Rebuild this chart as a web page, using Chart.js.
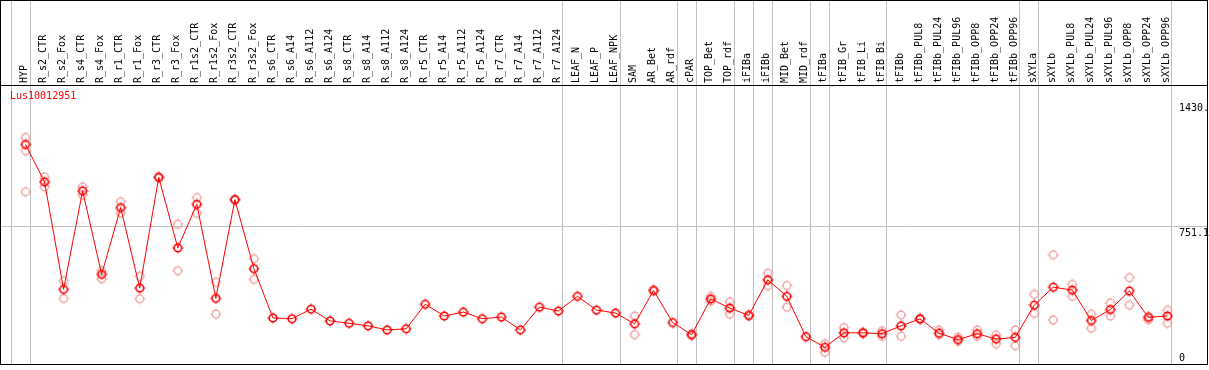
<!DOCTYPE html>
<html>
<head>
<meta charset="utf-8">
<script src="https://cdn.jsdelivr.net/npm/chart.js@4.4.1/dist/chart.umd.min.js"></script>
<style>
  html, body { margin: 0; padding: 0; background: #fff; }
  #wrap { width: 1209px; height: 370px; position: relative; }
</style>
</head>
<body>
<div id="wrap"><canvas id="chart"></canvas></div>
<script>
const chartTitle = 'Lus10012951';

const categories = [
  'HYP', 'R_s2_CTR', 'R_s2_Fox', 'R_s4_CTR', 'R_s4_Fox', 'R_r1_CTR', 'R_r1_Fox', 'R_r3_CTR', 'R_r3_Fox',
  'R_r1s2_CTR', 'R_r1s2_Fox', 'R_r3s2_CTR', 'R_r3s2_Fox', 'R_s6_CTR', 'R_s6_A14', 'R_s6_A112', 'R_s6_A124',
  'R_s8_CTR', 'R_s8_A14', 'R_s8_A112', 'R_s8_A124', 'R_r5_CTR', 'R_r5_A14', 'R_r5_A112', 'R_r5_A124',
  'R_r7_CTR', 'R_r7_A14', 'R_r7_A112', 'R_r7_A124', 'LEAF_N', 'LEAF_P', 'LEAF_NPK', 'SAM', 'AR_Bet', 'AR_rdf',
  'cPAR', 'TOP_Bet', 'TOP_rdf', 'iFIBa', 'iFIBb', 'MID_Bet', 'MID_rdf', 'tFIBa', 'tFIB_Gr', 'tFIB_Li', 'tFIB_Bi',
  'tFIBb', 'tFIBb_PUL8', 'tFIBb_PUL24', 'tFIBb_PUL96', 'tFIBb_OPP8', 'tFIBb_OPP24', 'tFIBb_OPP96',
  'sXYLa', 'sXYLb', 'sXYLb_PUL8', 'sXYLb_PUL24', 'sXYLb_PUL96', 'sXYLb_OPP8', 'sXYLb_OPP24', 'sXYLb_OPP96'
];

// mean expression (red line)
const expression = [
  1197, 993, 407, 944, 489, 853, 414, 1018, 633, 871, 358, 896, 520, 251, 247, 299, 235, 222, 208, 186,
  192, 326, 262, 283, 247, 256, 186, 310, 289, 369, 294, 278, 219, 401, 226, 160, 355, 305, 265, 459,
  369, 149, 91, 170, 170, 165, 208, 246, 168, 133, 165, 136, 145, 321, 419, 403, 237, 297, 398, 254, 262
];

// single replicates (pink circles)
const replicateA = [
  1235, 1020, 455, 966, 509, 885, 478, 1022, 762, 907, 446, 900, 574,
  null, null, null, null, null, null, null, null, null, null, null, null, null, null, null, null, null, null, null,
  262, 405, null, 165, 369, 339, 268, 495, 428, null, 111, 199, 175, 181, 267, 250, 186, 147, 186, 158, 186,
  380, 595, 434, 272, 333, 471, 258, 294
];
const replicateB = [
  1163, 966, 358, 921, 464, 822, 355, 1014, 509, 822, 272, 893, 462,
  null, null, null, null, null, null, null, null, null, null, null, null, null, null, null, null, null, null, null,
  160, 397, null, 155, 344, 272, 262, 427, 310, null, 64, 143, 165, 151, 151, 242, 160, 125, 150, 111, 100,
  276, 240, 369, 195, 262, 321, 240, 222
];
const replicateC = [
  939, null, null, null, null, null, null, null, null, null, null, null, null, null, null, null, null, null, null, null,
  null, null, null, null, null, null, null, null, null, null, null, null, null, null, null, null, null, null, null, null,
  null, null, null, null, null, null, null, null, null, null, null, null, null, null, null, null, null, null, null, null, null
];

const yTickValues = [0, 751.1, 1430];
const yTickLabels = ['0', '751.1', '1430.'];
const yGridValues = [751.1];
// separators are drawn right after these categories
const groupBreaks = [0, 28, 31, 34, 35, 37, 38, 39, 41, 42, 45, 52, 53, 60];

const FONT = '10px "DejaVu Sans Mono", monospace';

// small circle with four ticks, used as point style
function makeMarker(color, lw) {
  const c = document.createElement('canvas');
  c.width = 12; c.height = 12;
  const g = c.getContext('2d');
  g.strokeStyle = color;
  g.lineWidth = lw;
  g.beginPath();
  g.arc(6, 6, 3.8, 0, Math.PI * 2);
  g.stroke();
  g.lineWidth = 1;
  g.beginPath();
  g.moveTo(6, 0.5); g.lineTo(6, 2);
  g.moveTo(6, 10); g.lineTo(6, 11.5);
  g.moveTo(0.5, 6); g.lineTo(2, 6);
  g.moveTo(10, 6); g.lineTo(11.5, 6);
  g.stroke();
  return c;
}
const mainMarker = makeMarker('#ff0000', 1.6);
const repMarker = makeMarker('#f0a0a0', 1.3);

const framePlugin = {
  id: 'frame',
  beforeDraw(chart) {
    const ctx = chart.ctx;
    ctx.save();
    ctx.fillStyle = '#fff';
    ctx.fillRect(0, 0, chart.width, chart.height);
    ctx.restore();
  },
  beforeDatasetsDraw(chart) {
    const { ctx, chartArea, scales } = chart;
    ctx.save();
    ctx.strokeStyle = '#c0c0c0';
    ctx.lineWidth = 1;
    ctx.beginPath();
    yGridValues.forEach(v => {
      const y = Math.round(scales.y.getPixelForValue(v)) + 0.5;
      ctx.moveTo(0, y);
      ctx.lineTo(chart.width - 2, y);
    });
    const first = Math.round(scales.x.getPixelForValue(0) - 15) + 0.5;
    ctx.moveTo(first, 0);
    ctx.lineTo(first, chartArea.bottom);
    groupBreaks.forEach(i => {
      const x = Math.round(scales.x.getPixelForValue(i) + 4) + 0.5;
      ctx.moveTo(x, 0);
      ctx.lineTo(x, chartArea.bottom);
    });
    ctx.stroke();
    ctx.restore();
  },
  afterDraw(chart) {
    const { ctx, chartArea, scales } = chart;
    ctx.save();
    // outer box and header separator
    ctx.strokeStyle = '#000';
    ctx.lineWidth = 1;
    ctx.strokeRect(0.5, 0.5, chart.width - 2, chartArea.bottom);
    ctx.beginPath();
    ctx.moveTo(0, chartArea.top - 0.5);
    ctx.lineTo(chart.width - 1, chartArea.top - 0.5);
    ctx.stroke();

    // gene id
    ctx.font = FONT;
    ctx.fillStyle = '#ff0000';
    ctx.textAlign = 'left';
    ctx.textBaseline = 'top';
    ctx.fillText(chartTitle, 10, chartArea.top + 5);

    // value labels at right
    ctx.fillStyle = '#000';
    yTickValues.forEach((v, i) => {
      const y = scales.y.getPixelForValue(v);
      if (v === 0) {
        ctx.textBaseline = 'bottom';
        ctx.fillText(yTickLabels[i], chartArea.right + 2, y - 1);
      } else {
        ctx.textBaseline = 'top';
        ctx.fillText(yTickLabels[i], chartArea.right + 2, y + 2);
      }
    });
    ctx.restore();
  }
};

new Chart(document.getElementById('chart'), {
  type: 'line',
  data: {
    labels: categories,
    datasets: [
      {
        label: 'mean',
        data: expression,
        borderColor: '#ff0000',
        borderWidth: 1,
        tension: 0,
        pointStyle: mainMarker,
        pointRadius: 5
      },
      { label: 'rep A', data: replicateA, showLine: false, pointStyle: repMarker, pointRadius: 5 },
      { label: 'rep B', data: replicateB, showLine: false, pointStyle: repMarker, pointRadius: 5 },
      { label: 'rep C', data: replicateC, showLine: false, pointStyle: repMarker, pointRadius: 5 }
    ]
  },
  options: {
    responsive: true,
    maintainAspectRatio: false,
    animation: false,
    events: [],
    layout: { padding: { left: 16, top: 0, right: 0, bottom: 2 } },
    plugins: {
      legend: { display: false },
      tooltip: { enabled: false },
      title: { display: false }
    },
    scales: {
      x: {
        position: 'top',
        offset: true,
        grid: { display: false, drawTicks: false, offset: true },
        border: { display: false },
        afterFit: (scale) => { scale.height = 86; },
        ticks: {
          autoSkip: false,
          minRotation: 90,
          maxRotation: 90,
          padding: 3,
          labelOffset: 11,
          color: '#000',
          font: { family: '"DejaVu Sans Mono", monospace', size: 10 }
        }
      },
      y: {
        position: 'right',
        min: 0,
        max: 1516,
        grid: { display: false, drawTicks: false },
        border: { display: false },
        ticks: { display: false },
        afterFit: (scale) => { scale.width = 32; }
      }
    }
  },
  plugins: [framePlugin]
});
</script>
</body>
</html>
